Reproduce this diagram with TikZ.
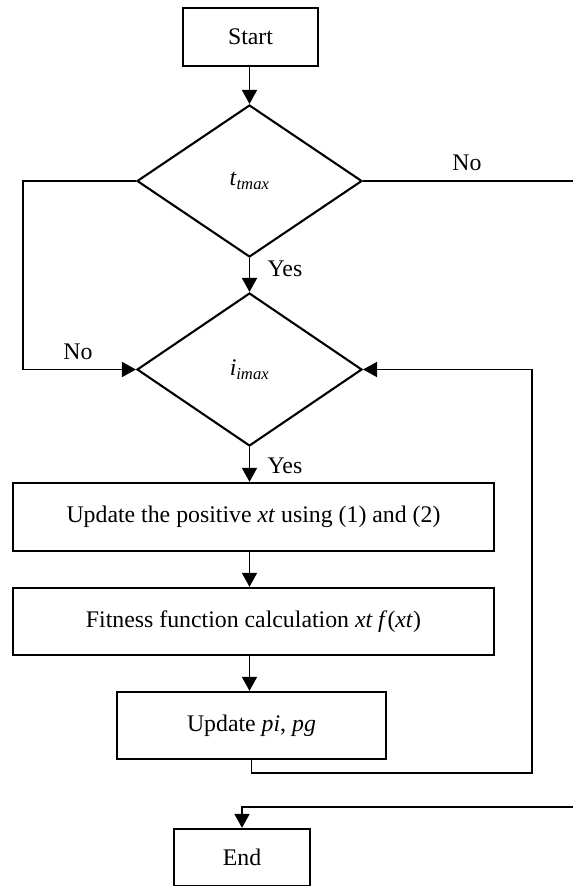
\documentclass[tikz,border=0pt]{standalone}
\usepackage{fontspec}
\setmainfont{Liberation Serif}
\usetikzlibrary{shapes.geometric,arrows.meta}

\tikzset{
  every node/.style={font=\fontsize{23.8bp}{28bp}\selectfont},
  procbox/.style={draw, line width=2.3bp, rectangle, inner sep=0pt},
  decision/.style={draw, line width=2.1bp, diamond, inner sep=0pt,
    minimum width=225bp, minimum height=152bp},
  flow/.style={line width=1.8bp},
  flowarrow/.style={flow, -{Triangle[length=14bp, width=15bp]}},
  lbl/.style={inner sep=0pt}
}
\newcommand{\lowidx}[2]{\textit{#1}\textsubscript{\textit{#2}}}

\begin{document}
\begin{tikzpicture}[x=1bp, y=-1bp]
  \useasboundingbox (0,0) rectangle (573,886);

  % main column
  \node[procbox, minimum width=135bp, minimum height=58bp] (start) at (250.5,37) {Start};
  \node[decision] (tcheck) at (249.5,181) {\lowidx{t}{tmax}};
  \node[decision, minimum height=153bp] (icheck) at (249.5,369.5) {\lowidx{i}{imax}};
  \node[procbox, minimum width=481bp, minimum height=68bp] (upx) at (253.5,517)
    {Update the positive \textit{xt} using (1) and (2)};
  \node[procbox, minimum width=481bp, minimum height=67bp] (fit) at (253.5,621.5)
    {Fitness function calculation \textit{xt f}(\textit{xt})};
  \node[procbox, minimum width=269bp, minimum height=67bp] (upp) at (251.5,725.5)
    {Update \textit{pi}, \textit{pg}};
  \node[procbox, minimum width=136bp, minimum height=57bp] (stop) at (242,857.5) {End};

  % labels
  \node[lbl] (yes1) at (285,269) {Yes};
  \node[lbl] (yes2) at (285,466) {Yes};
  \node[lbl] (no1) at (467,163) {No};
  \node[lbl] (no2) at (78,352) {No};

  % helper points for the routed lines
  \coordinate (lcorner) at (23,181);
  \coordinate (rexit) at (573,181);
  \coordinate (loopr) at (532,773);
  \coordinate (rin) at (573,807);

  % connectors
  \draw[flowarrow] (start.south -| tcheck.north) -- (tcheck.north);
  \draw[flowarrow] (tcheck.south) -- (icheck.north);
  \draw[flowarrow] (icheck.south) -- (icheck.south |- upx.north);
  \draw[flowarrow] (upx.south -| icheck.south) -- (fit.north -| icheck.south);
  \draw[flowarrow] (fit.south -| icheck.south) -- (upp.north -| icheck.south);
  \draw[flowarrow] (tcheck.west) -- (lcorner) |- (icheck.west);
  \draw[flow] (tcheck.east) -- (rexit);
  \draw[flowarrow] (upp.south) |- (loopr) |- (icheck.east);
  \draw[flowarrow] (rin) -| (stop.north);
\end{tikzpicture}
\end{document}
